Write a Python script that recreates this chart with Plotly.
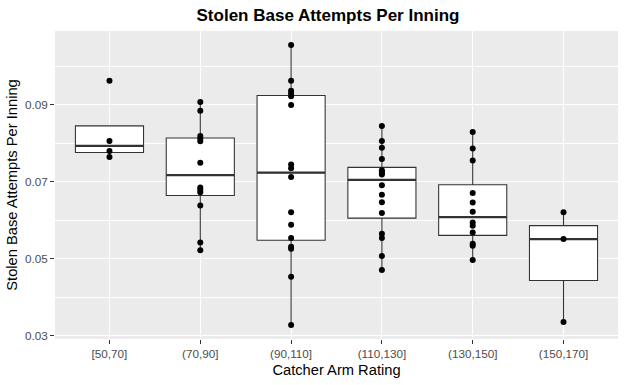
import numpy as np
import plotly.graph_objects as go

categories = ["[50,70]", "(70,90]", "(90,110]", "(110,130]", "(130,150]", "(150,170]"]

g_50_70 = [0.0962, 0.0806, 0.0780, 0.0764]
g_70_90 = [0.0907, 0.0884, 0.0819, 0.0812, 0.0805, 0.0749, 0.0685, 0.0679, 0.0673, 0.0638, 0.0542, 0.0522]
g_90_110 = [0.1055, 0.0962, 0.0936, 0.0929, 0.0922, 0.0899, 0.0745, 0.0735, 0.0712, 0.0621, 0.0588,
            0.0554, 0.0531, 0.0526, 0.0453, 0.0328]
g_110_130 = [0.0845, 0.0806, 0.0788, 0.0759, 0.0730, 0.0726, 0.0722, 0.0719, 0.0691, 0.0666, 0.0647,
             0.0619, 0.0565, 0.0554, 0.0507, 0.0471]
g_130_150 = [0.0829, 0.0786, 0.0755, 0.0671, 0.0646, 0.0622, 0.0594, 0.0586, 0.0568, 0.0539, 0.0534, 0.0497]
g_150_170 = [0.0621, 0.0551, 0.0336]

groups = [g_50_70, g_70_90, g_90_110, g_110_130, g_130_150, g_150_170]

y_ticks = [0.03, 0.05, 0.07, 0.09]
y_minor_ticks = [0.04, 0.06, 0.08, 0.10]

FONT = "Liberation Sans, Arial, sans-serif"
LINE = "#333333"

xs = list(range(len(categories)))
q1s, meds, q3s, lfs, ufs = [], [], [], [], []
for g in groups:
    a = np.array(g)
    q1, med, q3 = np.percentile(a, [25, 50, 75])
    iqr = q3 - q1
    lf = a[a >= q1 - 1.5 * iqr].min()
    uf = a[a <= q3 + 1.5 * iqr].max()
    q1s.append(q1); meds.append(med); q3s.append(q3); lfs.append(lf); ufs.append(uf)

fig = go.Figure()
fig.add_trace(go.Box(
    x=xs, q1=q1s, median=meds, q3=q3s, lowerfence=lfs, upperfence=ufs,
    width=0.75, whiskerwidth=0, fillcolor="white",
    line=dict(color=LINE, width=1.07), boxpoints=False, hoverinfo="skip",
    showlegend=False,
))

half = 0.375
mx, my = [], []
for i, m in zip(xs, meds):
    mx += [i - half, i + half, None]
    my += [m, m, None]
fig.add_trace(go.Scatter(x=mx, y=my, mode="lines", line=dict(color=LINE, width=2.2),
                         hoverinfo="skip", showlegend=False))

px, py = [], []
for i, g in zip(xs, groups):
    px += [i] * len(g)
    py += g
fig.add_trace(go.Scatter(x=px, y=py, mode="markers", marker=dict(color="black", size=6),
                         showlegend=False))

allv = np.concatenate([np.array(g) for g in groups])
lo, hi = allv.min(), allv.max()
pad = (hi - lo) * 0.05

fig.update_layout(
    width=625, height=385,
    margin=dict(l=55, r=7, t=31, b=46),
    paper_bgcolor="white", plot_bgcolor="#EBEBEB",
    font=dict(family=FONT, color="black"),
    title=dict(text="<b>Stolen Base Attempts Per Inning</b>", x=328 / 625, xref="container",
               y=1 - 15 / 385, yref="container", yanchor="middle", xanchor="center",
               font=dict(size=17, color="black", family=FONT)),
    xaxis=dict(range=[-0.6, len(categories) - 0.4], tickvals=xs, ticktext=categories,
               showgrid=True, gridcolor="white", gridwidth=1.07, zeroline=False,
               ticks="outside", ticklen=4, tickcolor=LINE, tickwidth=1.07,
               tickfont=dict(size=11.7, color="#4D4D4D", family=FONT),
               title=dict(text="Catcher Arm Rating", standoff=5,
                          font=dict(size=14.7, color="black", family=FONT)),
               showline=False, automargin=False),
    yaxis=dict(range=[lo - pad, hi + pad], tickvals=y_ticks,
               ticktext=[f"{v:.2f}" for v in y_ticks],
               showgrid=True, gridcolor="white", gridwidth=1.07, zeroline=False,
               ticks="outside", ticklen=4, tickcolor=LINE, tickwidth=1.07,
               tickfont=dict(size=11.7, color="#4D4D4D", family=FONT),
               minor=dict(tickvals=y_minor_ticks, showgrid=True, gridcolor="white",
                          gridwidth=0.53, ticks=""),
               title=dict(text="Stolen Base Attempts Per Inning", standoff=3,
                          font=dict(size=14.7, color="black", family=FONT)),
               showline=False, automargin=False),
)

fig.write_html("out.html", config={"displayModeBar": False},
               post_script="document.body.style.margin='0';")
